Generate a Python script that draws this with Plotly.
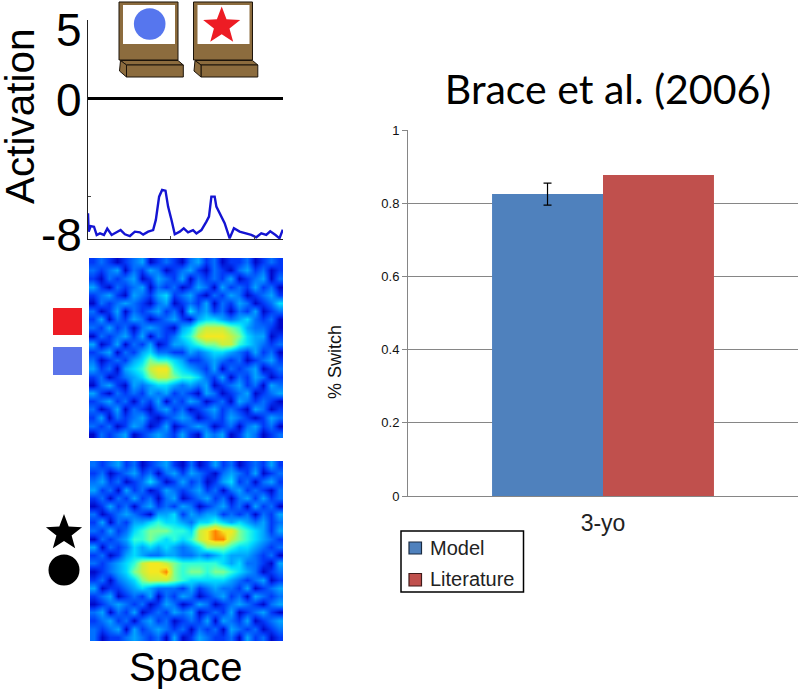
import math
import plotly.graph_objects as go

W, H = 800, 689

# ---- data ----
trace_x = [0,0.7,2.7,6,8.7,12,16,19.3,23.7,28.7,32.7,37,42,47,52,55.3,60.3,65.3,68,71.3,74.3,77.7,80.3,83.7,87,92,96,100.3,105.3,108.7,113.7,118.7,121.3,123.7,127,128.7,133.7,137,142,146.3,152,158.7,163.7,168.7,173.7,178.7,182.7,188,192,195.3]
trace_y = [-6.53,-7.58,-7.26,-7.30,-7.77,-7.68,-7.77,-7.41,-7.77,-7.64,-7.49,-7.73,-7.83,-7.58,-7.62,-7.75,-7.58,-7.49,-6.91,-5.58,-5.20,-5.24,-6.15,-6.91,-7.73,-7.58,-7.39,-7.62,-7.49,-7.68,-7.49,-7.01,-6.72,-5.58,-5.58,-6.15,-6.72,-7.10,-7.96,-7.39,-7.58,-7.68,-7.77,-7.90,-7.68,-7.77,-7.56,-7.77,-7.96,-7.47]

field_top = [
"121012301210231201120121","212302132012310210231201","102123013213021213012302",
"310212302120132031213120","123103213412310213201231","021232102301213021320124",
"201302123120423120213012","130213201231034432342120","213120232103467776532210",
"021231302124578887643301","301302130133456677543212","123021342211323443213120",
"201213465543112321201231","312034578854321302123012","120123467765542130213201",
"023103234432323012312032","310212132312103201230123","123120213021320120321210",
"201302102312012312103201","130212310123201213210132","212013201301232012023120",
"021230123213103230132012"]
field_bottom = [
"212312012310201312012131","120123120231321023213012","231201242013120134120231",
"312031201321231202312102","120213120230123120231312","013120231213201231203120",
"201232103341323312120213","130213345443244543432312","213124566655478988654313",
"021235565454578997654321","302124343432346665443212","120134322332232343332120",
"212345788765555543422103","012346788965665665432012","120234677765444443212301",
"301123432221312322130123","123012130213201231203212","012321201320132012321023",
"230213012132301213012310","123120231201213032130123","212303123212021203212012",
"201123212030132112031201"]

categories = ["3-yo"]
model_values = [0.825]
literature_values = [0.877]
model_error = [0.03]
bar_ticks = [0, 0.2, 0.4, 0.6, 0.8, 1]

# ---- helpers ----
def px(x): return x / W
def py(y): return 1 - y / H

FONT = "Liberation Sans"
JET = [[0, "#0008c8"], [1/9, "#0038f8"], [2/9, "#0070ff"], [3/9, "#00a4ff"], [4/9, "#00dcff"],
       [5/9, "#30ffd8"], [6/9, "#80ff90"], [7/9, "#c8f040"], [8/9, "#f4e820"], [1, "#ff8000"]]

fig = go.Figure()

fig.add_trace(go.Scatter(x=trace_x, y=trace_y, mode="lines", xaxis="x", yaxis="y",
                         line=dict(color="#1414d2", width=2.4), showlegend=False))
for grid, xa, ya in ((field_top, "x2", "y2"), (field_bottom, "x3", "y3")):
    fig.add_trace(go.Heatmap(z=[[int(c) for c in row] for row in grid], xaxis=xa, yaxis=ya,
                             colorscale=JET, zmin=0, zmax=9, zsmooth="best", showscale=False))
fig.add_trace(go.Bar(x=categories, y=model_values, name="Model", xaxis="x4", yaxis="y4", showlegend=False,
                     marker=dict(color="#4f81bd", line=dict(width=0)),
                     error_y=dict(type="data", array=model_error, color="black", thickness=1.2, width=4)))
fig.add_trace(go.Bar(x=categories, y=literature_values, name="Literature", xaxis="x4", yaxis="y4", showlegend=False,
                     marker=dict(color="#c0504d", line=dict(width=0))))

hidden = dict(visible=False)
shapes = []

def poly(points, fill, line="#1c140a", w=1):
    d = "M" + " L".join(f"{px(x):.5f},{py(y):.5f}" for x, y in points) + " Z"
    shapes.append(dict(type="path", path=d, xref="paper", yref="paper", fillcolor=fill,
                       line=dict(color=line, width=w), layer="above"))

def box(x0, y0, x1, y1, fill, line="#1c140a", w=1):
    poly([(x0, y0), (x1, y0), (x1, y1), (x0, y1)], fill, line, w)

def star(cx, cy, r, fill):
    pts = []
    for i in range(10):
        a = -math.pi / 2 + i * math.pi / 5
        rr = r if i % 2 == 0 else r * 0.42
        pts.append((cx + rr * math.cos(a), cy + rr * math.sin(a)))
    poly(pts, fill, line=fill, w=0)

def circle(cx, cy, r, fill):
    shapes.append(dict(type="circle", xref="paper", yref="paper", x0=px(cx - r), x1=px(cx + r),
                       y0=py(cy + r), y1=py(cy - r), fillcolor=fill, line=dict(width=0), layer="above"))

BROWN = "#8c6c3e"
for dx in (0, 74.5):
    box(119 + dx, 2, 178 + dx, 60, BROWN)
    box(123 + dx, 5, 175 + dx, 44, "white", "white", 0)
    poly([(120.5 + dx, 60.5), (178 + dx, 60.5), (183.3 + dx, 65), (126.5 + dx, 65)], BROWN)
    box(126.5 + dx, 65, 183.3 + dx, 77, BROWN)
    poly([(120.5 + dx, 60.5), (126.5 + dx, 65), (126.5 + dx, 77), (119.5 + dx, 71)], BROWN)
circle(149.7, 24, 15.8, "#5676ee")
star(221.7, 26, 19.5, "#ed1c24")
box(53, 308, 82, 335, "#ed1c24", "#ed1c24", 0)
box(53, 347, 82, 375, "#5a74ea", "#5a74ea", 0)
star(64, 533, 19, "black")
circle(64, 570, 15.5, "black")

# legend box
box(401, 531, 523.5, 592, "white", "black", 1.5)
box(409, 542, 421.5, 554, "#4f81bd", "#1a2a40", 1.2)
box(409, 573.5, 421.5, 586, "#c0504d", "#401a1a", 1.2)

def label(text, x, y, size, rot=0, anchor="center", color="black", family=FONT):
    return dict(text=text, x=px(x), y=py(y), xref="paper", yref="paper", showarrow=False, textangle=rot,
                xanchor=anchor, yanchor="middle", font=dict(family=family, size=size, color=color))

fig.update_layout(
    width=W, height=H, margin=dict(l=0, r=0, t=0, b=0, autoexpand=False),
    paper_bgcolor="white", plot_bgcolor="rgba(0,0,0,0)",
    barmode="group", bargap=0.431, bargroupgap=0,
    shapes=shapes,
    title=dict(text="Brace et al. (2006)", x=px(608), y=py(90), xref="paper", yref="paper",
               xanchor="center", yanchor="middle",
               font=dict(family="Lato", size=41, color="black")),
    annotations=[label("Activation", 20, 116, 40.5, -90), label("5", 69, 30, 46), label("0", 69, 100, 46),
                 label("-8", 61, 235, 46), label("Space", 185, 667, 40),
                 label("Model", 428, 548, 20, anchor="left", color="#222"),
                 label("Literature", 428, 579, 20, anchor="left", color="#222"),
                 label("% Switch", 335, 362, 18, -90, color="#111")],
    xaxis=dict(domain=[px(88), px(283)], range=[0, 195.5], anchor="y", showgrid=False, zeroline=False,
               showline=True, linecolor="#222", linewidth=1, tickvals=[83, 167], ticktext=["", ""],
               ticks="inside", ticklen=3, tickcolor="#444"),
    yaxis=dict(domain=[py(239), py(20)], range=[-8, 4.51], anchor="x", showgrid=False,
               zeroline=True, zerolinecolor="black", zerolinewidth=2.5,
               showline=True, linecolor="#222", linewidth=1.2, tickvals=[-5.6], ticktext=[""],
               ticks="inside", ticklen=3, tickcolor="#444"),
    xaxis2=dict(domain=[px(89), px(283)], anchor="y2", **hidden),
    yaxis2=dict(domain=[py(438), py(258)], anchor="x2", autorange="reversed", **hidden),
    xaxis3=dict(domain=[px(90), px(283)], anchor="y3", **hidden),
    yaxis3=dict(domain=[py(641), py(461)], anchor="x3", autorange="reversed", **hidden),
    xaxis4=dict(domain=[px(408), px(798)], anchor="y4", range=[-0.5, 0.5], showgrid=False, zeroline=False,
                showline=True, linecolor="#868686", linewidth=1, ticks="",
                tickfont=dict(family=FONT, size=23, color="#222"), ticklabelstandoff=6),
    yaxis4=dict(domain=[py(496), py(130)], anchor="x4", range=[0, 1], tickvals=bar_ticks,
                ticktext=["0", "0.2", "0.4", "0.6", "0.8", "1"],
                showgrid=True, gridcolor="#868686", gridwidth=1, zeroline=False,
                showline=True, linecolor="#868686", linewidth=1, ticks="outside", ticklen=5, tickcolor="#868686",
                tickfont=dict(family=FONT, size=13, color="#111")),
)
fig.write_html("out.html", config={"displayModeBar": False}, post_script="document.body.style.margin='0';")
